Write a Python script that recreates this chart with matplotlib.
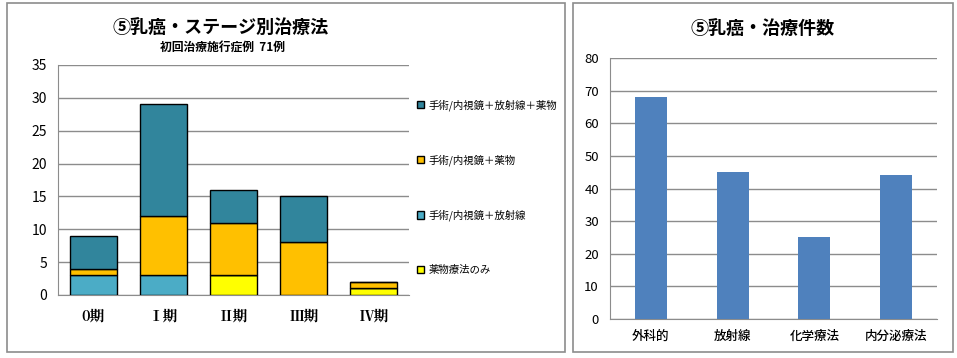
import matplotlib.pyplot as plt
from matplotlib.patches import Rectangle
import numpy as np

plt.rcParams['font.family'] = ['Noto Sans CJK JP', 'DejaVu Sans']

# left chart data
stages = ['0期', 'Ⅰ期', 'Ⅱ期', 'Ⅲ期', 'Ⅳ期']
drug_only = [0, 0, 3, 0, 1]
surg_rad = [3, 3, 0, 0, 0]
surg_drug = [1, 9, 8, 8, 1]
surg_rad_drug = [5, 17, 5, 7, 0]

# right chart data
treatments = ['外科的', '放射線', '化学療法', '内分泌療法']
counts = [68, 45, 25, 44]

W, H = 957, 358
fig = plt.figure(figsize=(W / 100, H / 100), dpi=100)


def px_axes(x0, y0, x1, y1):
    return fig.add_axes([x0 / W, 1 - y1 / H, (x1 - x0) / W, (y1 - y0) / H])


# panel borders
for x0, y0, x1, y1 in [(7, 3, 565, 352), (573, 3, 953, 352)]:
    fig.patches.append(Rectangle((x0 / W, 1 - y1 / H), (x1 - x0) / W, (y1 - y0) / H,
                                 transform=fig.transFigure, fill=False,
                                 edgecolor='#8c8c8c', linewidth=1.2))

# ---- left: stacked bars
ax1 = px_axes(58, 65, 409, 295)
x = np.arange(len(stages))
series = [
    (drug_only, '#FFFF00', '薬物療法のみ'),
    (surg_rad, '#4BACC6', '手術/内視鏡＋放射線'),
    (surg_drug, '#FFC000', '手術/内視鏡＋薬物'),
    (surg_rad_drug, '#31859C', '手術/内視鏡＋放射線＋薬物'),
]
bottom = np.zeros(len(stages))
handles = []
for vals, col, lab in series:
    v = np.array(vals, dtype=float)
    b = ax1.bar(x, v, 0.67, bottom=bottom, color=col, edgecolor='black',
                linewidth=1, label=lab, zorder=3)
    handles.append(b)
    bottom += v

ax1.set_xlim(-0.5, len(stages) - 0.5)
ax1.set_ylim(0, 35)
ax1.set_yticks(range(0, 36, 5))
ax1.set_xticks(x)
ax1.set_xticklabels(stages, fontsize=10.5, fontweight='bold',
                    family=['Noto Serif CJK JP', 'Noto Sans CJK JP', 'DejaVu Sans'])
ax1.tick_params(axis='y', labelsize=10, length=0, pad=8)
ax1.tick_params(axis='x', length=0, pad=10)
ax1.yaxis.grid(True, color='#8c8c8c', linewidth=1, zorder=0)
for s in ['top', 'right']:
    ax1.spines[s].set_visible(False)
for s in ['left', 'bottom']:
    ax1.spines[s].set_color('#8c8c8c')

leg = ax1.legend(handles[::-1], [h.get_label() for h in handles[::-1]],
                 loc='upper left', bbox_to_anchor=(1.01, 0.87), frameon=False,
                 fontsize=7.5, labelspacing=4.2, handlelength=0.7, handleheight=0.7,
                 handletextpad=0.4, borderaxespad=0)

fig.text(221 / W, 1 - 27 / H, '⑤乳癌・ステージ別治療法', ha='center', va='center',
         fontsize=13, fontweight='bold')
fig.text(222 / W, 1 - 47 / H, '初回治療施行症例  71例', ha='center', va='center',
         fontsize=8.5, fontweight='bold')

# ---- right: simple bars
ax2 = px_axes(610, 58, 937, 319)
x2 = np.arange(len(treatments))
ax2.bar(x2, counts, 0.39, color='#4F81BD', zorder=3)
ax2.set_xlim(-0.5, len(treatments) - 0.5)
ax2.set_ylim(0, 80)
ax2.set_yticks(range(0, 81, 10))
ax2.set_xticks(x2)
ax2.set_xticklabels(treatments, fontsize=9, fontweight='medium')
ax2.tick_params(axis='y', labelsize=9.5, length=0, pad=8)
ax2.tick_params(axis='x', length=0, pad=8)
ax2.yaxis.grid(True, color='#8c8c8c', linewidth=1, zorder=0)
for s in ['top', 'right']:
    ax2.spines[s].set_visible(False)
for s in ['left', 'bottom']:
    ax2.spines[s].set_color('#8c8c8c')

fig.text(763 / W, 1 - 28 / H, '⑤乳癌・治療件数', ha='center', va='center',
         fontsize=13, fontweight='bold')

fig.savefig('out.png', dpi=100)
